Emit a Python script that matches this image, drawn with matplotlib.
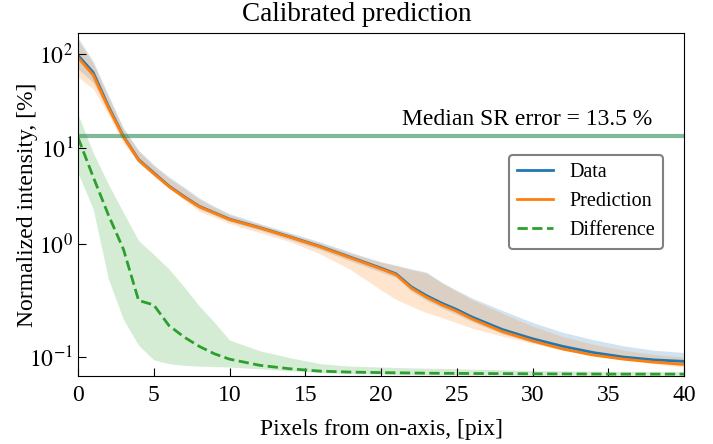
import numpy as np
import matplotlib
matplotlib.use('Agg')
import matplotlib.pyplot as plt
from matplotlib.ticker import NullLocator

plt.rcParams['font.family'] = ['Liberation Serif', 'DejaVu Serif']
plt.rcParams['mathtext.fontset'] = 'stix'

# pixel offset from on-axis
pix = [0, 1, 2, 3, 4, 5, 6, 7, 8, 9, 10, 12, 14, 16, 18, 20, 21, 22, 23, 24,
       25, 26, 28, 30, 32, 34, 36, 38, 40]

data_mid = [97, 64, 28, 13.4, 7.6, 5.5, 4.0, 3.1, 2.45, 2.1, 1.8, 1.47, 1.18, 0.94,
            0.73, 0.57, 0.50, 0.375, 0.31, 0.265, 0.232, 0.200, 0.158, 0.134,
            0.118, 0.107, 0.100, 0.096, 0.094]
data_lo = [70, 50, 25, 12.2, 7.0, 5.2, 3.8, 2.95, 2.3, 1.98, 1.70, 1.38, 1.10, 0.87,
           0.67, 0.52, 0.46, 0.34, 0.28, 0.24, 0.21, 0.183, 0.146, 0.126, 0.112,
           0.103, 0.097, 0.093, 0.091]
data_hi = [150, 84, 37, 16.5, 9.6, 6.7, 5.0, 3.9, 3.0, 2.45, 2.05, 1.62, 1.30, 1.045,
           0.82, 0.66, 0.61, 0.56, 0.52, 0.416, 0.348, 0.295, 0.228, 0.18, 0.15,
           0.132, 0.119, 0.111, 0.107]

pred_mid = [92, 60, 27, 13.2, 7.5, 5.4, 3.95, 3.05, 2.42, 2.08, 1.78, 1.46, 1.17, 0.93,
            0.72, 0.56, 0.49, 0.365, 0.300, 0.256, 0.224, 0.193, 0.152, 0.129,
            0.113, 0.103, 0.097, 0.093, 0.090]
pred_lo = [57, 43, 23, 11.3, 7.1, 5.1, 3.8, 2.85, 2.17, 1.89, 1.62, 1.30, 1.05, 0.79,
           0.55, 0.35, 0.286, 0.248, 0.218, 0.198, 0.179, 0.162, 0.140, 0.124,
           0.111, 0.103, 0.096, 0.091, 0.087]
pred_hi = [140, 80, 35, 15.8, 9.2, 6.5, 4.8, 3.75, 2.9, 2.38, 2.0, 1.58, 1.27, 1.02,
           0.80, 0.65, 0.60, 0.55, 0.51, 0.41, 0.34, 0.285, 0.215, 0.168, 0.139,
           0.122, 0.111, 0.104, 0.100]

diff_mid = [13, 5.0, 2.0, 0.88, 0.28, 0.255, 0.17, 0.138, 0.118, 0.105, 0.097, 0.089,
            0.085, 0.0825, 0.0815, 0.081, 0.0808, 0.0806, 0.0804, 0.0803, 0.0802,
            0.0801, 0.080, 0.0798, 0.0797, 0.0796, 0.0795, 0.0795, 0.0795]
diff_lo = [5.5, 2.3, 0.45, 0.19, 0.12, 0.096, 0.091, 0.089, 0.088, 0.0875, 0.087,
           0.085, 0.083, 0.081, 0.080, 0.0795, 0.079, 0.079, 0.079, 0.0788, 0.0788,
           0.0787, 0.0787, 0.0786, 0.0786, 0.0785, 0.0785, 0.0785, 0.0785]
diff_hi = [23, 9, 4.2, 2.1, 1.08, 0.78, 0.56, 0.375, 0.25, 0.181, 0.131, 0.11, 0.099,
           0.091, 0.088, 0.087, 0.0865, 0.086, 0.0857, 0.0855, 0.085, 0.0845, 0.084,
           0.083, 0.0827, 0.0824, 0.0822, 0.082, 0.082]

median_sr_error = 13.5

yticks = [0.1, 1, 10, 100]
yticklabels = [r'$10^{-1}$', r'$10^{0}$', r'$10^{1}$', r'$10^{2}$']


def fwd(v):
    return np.log10(np.clip(np.asarray(v, dtype=float) - 0.04, 1e-9, None))


def inv(u):
    return 10 ** np.asarray(u, dtype=float) + 0.04


fig = plt.figure(figsize=(7.13, 4.44), dpi=100)
ax = fig.add_axes([78 / 713, 1 - 375.7 / 444, 606 / 713, 342.7 / 444])
ax.set_yscale('function', functions=(fwd, inv))

ax.fill_between(pix, data_lo, data_hi, color='tab:blue', alpha=0.2, lw=0)
ax.fill_between(pix, pred_lo, pred_hi, color='tab:orange', alpha=0.2, lw=0)
ax.fill_between(pix, diff_lo, diff_hi, color='tab:green', alpha=0.2, lw=0)
ax.plot(pix, data_mid, color='tab:blue', lw=2, label='Data')
ax.plot(pix, pred_mid, color='tab:orange', lw=2, label='Prediction')
ax.plot(pix, diff_mid, color='tab:green', lw=2, ls='--', label='Difference')

ax.axhline(median_sr_error, color='seagreen', alpha=0.6, lw=3)
ax.text(37.9, 17.6, 'Median SR error = %.1f %%' % median_sr_error,
        ha='right', va='baseline', fontsize=17)

ax.set_xlim(0, 40)
ax.set_ylim(0.078, 168)
ax.set_yticks(yticks)
ax.set_yticklabels(yticklabels)
ax.yaxis.set_minor_locator(NullLocator())
ax.tick_params(direction='in', length=6, labelsize=17, top=False, right=False)
ax.tick_params(axis='x', pad=7)

ax.set_xlabel('Pixels from on-axis, [pix]', fontsize=17, labelpad=9)
ax.set_ylabel('Normalized intensity, [%]', fontsize=17, labelpad=-6)
fig.suptitle('Calibrated prediction', fontsize=19.5, x=0.5, y=0.995, va='top')

leg = ax.legend(loc='upper right', bbox_to_anchor=(0.965, 0.644), borderaxespad=0,
                fontsize=14.5, handlelength=1.8, fancybox=True, framealpha=1)
leg.get_frame().set_edgecolor('0.5')
leg.get_frame().set_linewidth(1.5)

fig.savefig('out.png', dpi=100)
